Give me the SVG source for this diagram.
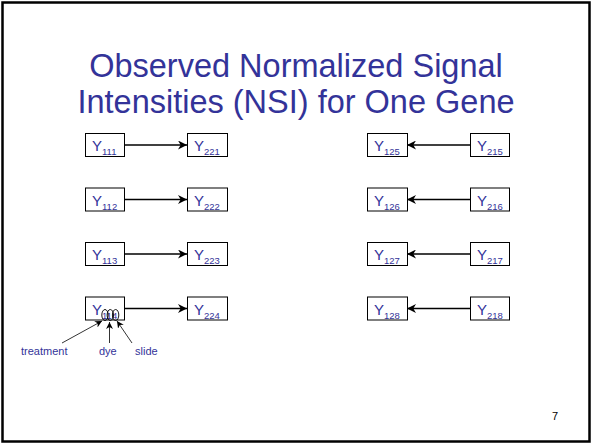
<svg xmlns="http://www.w3.org/2000/svg" width="592" height="444" viewBox="0 0 592 444">
  <defs>
    <marker id="head" viewBox="0 0 10 10" refX="10" refY="5" markerWidth="9" markerHeight="9" markerUnits="userSpaceOnUse" orient="auto">
      <path d="M0,0 L10,5 L0,10 L3,5 z" fill="#000"/>
    </marker>
    <marker id="thin" viewBox="0 0 10 10" refX="10" refY="5" markerWidth="7" markerHeight="7" markerUnits="userSpaceOnUse" orient="auto">
      <path d="M0,0 L10,5 L0,10 L3,5 z" fill="#000"/>
    </marker>
  </defs>
  <style>
    .box { fill: #fff; stroke: #000; stroke-width: 1; }
    .lbl { font-family: "Liberation Sans", Arial, sans-serif; fill: #333399; font-size: 15px; }
    .sub { font-size: 9.5px; }
    .title { font-family: "Liberation Sans", Arial, sans-serif; fill: #333399; font-size: 32.5px; text-anchor: middle; }
    .note { font-family: "Liberation Sans", Arial, sans-serif; fill: #333399; font-size: 11px; }
    .edge { stroke: #000; stroke-width: 1.3; fill: none; marker-end: url(#head); }
    .pointer { stroke: #000; stroke-width: 0.8; fill: none; marker-end: url(#thin); }
    .ring { fill: none; stroke: #000; stroke-width: 0.9; }
  </style>

  <!-- slide frame -->
  <rect x="2.5" y="2.5" width="587" height="439" fill="#fff" stroke="#000" stroke-width="2.5"/>

  <!-- heading -->
  <text class="title" x="296" y="77">Observed Normalized Signal</text>
  <text class="title" x="296" y="113">Intensities (NSI) for One Gene</text>

  <!-- connectors -->
  <g id="connectors">
    <line class="edge" x1="124" y1="145" x2="187" y2="145"/>
    <line class="edge" x1="124" y1="199.5" x2="187" y2="199.5"/>
    <line class="edge" x1="124" y1="254" x2="187" y2="254"/>
    <line class="edge" x1="124" y1="308.5" x2="187" y2="308.5"/>
    <line class="edge" x1="470" y1="145" x2="407" y2="145"/>
    <line class="edge" x1="470" y1="199.5" x2="407" y2="199.5"/>
    <line class="edge" x1="470" y1="254" x2="407" y2="254"/>
    <line class="edge" x1="470" y1="308.5" x2="407" y2="308.5"/>
  </g>

  <!-- left column: Y11k -> Y22k -->
  <g id="y111"><rect class="box" x="85.5" y="133.5" width="39" height="23"/><text class="lbl" x="92" y="151">Y<tspan class="sub" dy="4">111</tspan></text></g>
  <g id="y221"><rect class="box" x="187.5" y="133.5" width="40" height="23"/><text class="lbl" x="194" y="151">Y<tspan class="sub" dy="4">221</tspan></text></g>
  <g id="y112"><rect class="box" x="85.5" y="188" width="39" height="23"/><text class="lbl" x="92" y="205.5">Y<tspan class="sub" dy="4">112</tspan></text></g>
  <g id="y222"><rect class="box" x="187.5" y="188" width="40" height="23"/><text class="lbl" x="194" y="205.5">Y<tspan class="sub" dy="4">222</tspan></text></g>
  <g id="y113"><rect class="box" x="85.5" y="242.5" width="39" height="23"/><text class="lbl" x="92" y="260">Y<tspan class="sub" dy="4">113</tspan></text></g>
  <g id="y223"><rect class="box" x="187.5" y="242.5" width="40" height="23"/><text class="lbl" x="194" y="260">Y<tspan class="sub" dy="4">223</tspan></text></g>
  <g id="y114"><rect class="box" x="85.5" y="297" width="39" height="23"/><text class="lbl" x="92" y="314.5">Y<tspan class="sub" dy="4">114</tspan></text></g>
  <g id="y224"><rect class="box" x="187.5" y="297" width="40" height="23"/><text class="lbl" x="194" y="314.5">Y<tspan class="sub" dy="4">224</tspan></text></g>

  <!-- right column: Y21k -> Y12k -->
  <g id="y125"><rect class="box" x="367.5" y="133.5" width="40" height="23"/><text class="lbl" x="374" y="151">Y<tspan class="sub" dy="4">125</tspan></text></g>
  <g id="y215"><rect class="box" x="470.5" y="133.5" width="39" height="23"/><text class="lbl" x="477" y="151">Y<tspan class="sub" dy="4">215</tspan></text></g>
  <g id="y126"><rect class="box" x="367.5" y="188" width="40" height="23"/><text class="lbl" x="374" y="205.5">Y<tspan class="sub" dy="4">126</tspan></text></g>
  <g id="y216"><rect class="box" x="470.5" y="188" width="39" height="23"/><text class="lbl" x="477" y="205.5">Y<tspan class="sub" dy="4">216</tspan></text></g>
  <g id="y127"><rect class="box" x="367.5" y="242.5" width="40" height="23"/><text class="lbl" x="374" y="260">Y<tspan class="sub" dy="4">127</tspan></text></g>
  <g id="y217"><rect class="box" x="470.5" y="242.5" width="39" height="23"/><text class="lbl" x="477" y="260">Y<tspan class="sub" dy="4">217</tspan></text></g>
  <g id="y128"><rect class="box" x="367.5" y="297" width="40" height="23"/><text class="lbl" x="374" y="314.5">Y<tspan class="sub" dy="4">128</tspan></text></g>
  <g id="y218"><rect class="box" x="470.5" y="297" width="39" height="23"/><text class="lbl" x="477" y="314.5">Y<tspan class="sub" dy="4">218</tspan></text></g>

  <!-- index annotation on Y114 -->
  <g id="index-notes">
    <ellipse class="ring" cx="105" cy="315" rx="3.2" ry="5.5"/>
    <ellipse class="ring" cx="110.3" cy="315" rx="3.2" ry="5.5"/>
    <ellipse class="ring" cx="115.6" cy="315" rx="3.2" ry="5.5"/>
    <line class="pointer" x1="62" y1="343" x2="102" y2="321"/>
    <line class="pointer" x1="109.5" y1="343" x2="109.5" y2="322"/>
    <line class="pointer" x1="132" y1="343" x2="117" y2="321"/>
    <text class="note" x="21" y="355">treatment</text>
    <text class="note" x="99" y="355">dye</text>
    <text class="note" x="135" y="355">slide</text>
  </g>

  <!-- page number -->
  <text x="552" y="420" font-family="Liberation Sans, Arial, sans-serif" font-size="11" fill="#000">7</text>
</svg>
